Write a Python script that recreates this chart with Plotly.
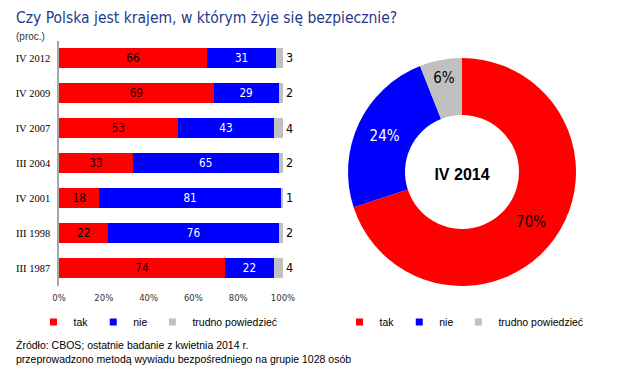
import plotly.graph_objects as go

# page body has an 8px margin; the figure is sized to fill the rest of the 620x372 window
OFF = 8
W, H = 620 - OFF, 372 - OFF

periods = ["IV 2012", "IV 2009", "IV 2007", "III 2004", "IV 2001", "III 1998", "III 1987"]
tak = [66, 69, 53, 33, 18, 22, 74]
nie = [31, 29, 43, 65, 81, 76, 22]
trudno = [3, 2, 4, 2, 1, 2, 4]

series_names = ["tak", "nie", "trudno powiedzieć"]
colors = ["#FF0000", "#0000FF", "#C0C0C0"]
text_colors = ["#000000", "#FFFFFF", "#000000"]

pie_labels = ["tak", "nie", "trudno powiedzieć"]
pie_values = [70, 24, 6]
pie_title = "IV 2014"

x_ticks = [0, 20, 40, 60, 80, 100]

title = "Czy Polska jest krajem, w którym żyje się bezpiecznie?"
subtitle = "(proc.)"
source1 = "Źródło: CBOS; ostatnie badanie z kwietnia 2014 r."
source2 = "przeprowadzono metodą wywiadu bezpośredniego na grupie 1028 osób"


def px_x(p):
    return (p - OFF) / W


def px_y(p):
    return 1 - (p - OFF) / H


fig = go.Figure()

for i, (name, vals) in enumerate(zip(series_names, [tak, nie, trudno])):
    is_last = i == 2
    fig.add_trace(go.Bar(
        y=periods, x=vals, orientation="h", name=name,
        marker=dict(color=colors[i], line=dict(width=0)),
        text=vals, texttemplate="%{x}", textangle=0,
        textposition="outside" if is_last else "inside",
        insidetextanchor="middle",
        textfont=dict(family="DejaVu Sans Condensed, DejaVu Sans", size=12.5, color=text_colors[i]),
        outsidetextfont=dict(family="DejaVu Sans Condensed, DejaVu Sans", size=12.5, color="#000000"),
        cliponaxis=False, showlegend=False, hoverinfo="skip",
    ))

# legend entries (left, for bars)
for i, name in enumerate(series_names):
    fig.add_trace(go.Scatter(
        x=[None], y=[None], mode="markers", name=name,
        marker=dict(symbol="square", size=7, color=colors[i]),
        legend="legend", showlegend=True,
    ))
# legend entries (right, for donut)
for i, name in enumerate(pie_labels):
    fig.add_trace(go.Scatter(
        x=[None], y=[None], mode="markers", name=name,
        marker=dict(symbol="square", size=7, color=colors[i]),
        legend="legend2", showlegend=True,
    ))

fig.add_trace(go.Pie(
    labels=pie_labels, values=pie_values, hole=0.5, sort=False,
    direction="clockwise", rotation=0,
    marker=dict(colors=colors, line=dict(width=0)),
    texttemplate="%{value}%", textposition="inside",
    insidetextorientation="horizontal",
    textfont=dict(family="DejaVu Sans Condensed, DejaVu Sans", size=15, color=text_colors),
    domain=dict(x=[px_x(348), px_x(576)], y=[px_y(286), px_y(58)]),
    title=dict(text="<b>" + pie_title + "</b>", position="middle center",
               font=dict(family="Liberation Sans, Arial", size=16, color="#000000")),
    showlegend=False, hoverinfo="skip",
))

fig.update_layout(
    width=W, height=H,
    margin=dict(l=0, r=0, t=0, b=0, autoexpand=False),
    paper_bgcolor="white", plot_bgcolor="white",
    barmode="stack", bargap=0.43,
    showlegend=True,
    xaxis=dict(
        domain=[px_x(59), px_x(283)], range=[0, 100], automargin=False,
        tickvals=x_ticks, ticktext=[f"{v}%" for v in x_ticks],
        showgrid=False, zeroline=False, showline=False,
        tickfont=dict(family="DejaVu Sans, Verdana", size=8.5, color="#333333"),
        ticks="outside", ticklen=4, tickcolor="rgba(0,0,0,0)",
        fixedrange=True,
    ),
    yaxis=dict(
        domain=[px_y(285.5), px_y(40.5)], automargin=False,
        categoryorder="array", categoryarray=periods, autorange="reversed",
        showgrid=False, zeroline=False,
        showline=True, linecolor="#A6A6A6", linewidth=1.5,
        tickfont=dict(family="Liberation Serif, Times New Roman", size=10.5, color="#000000"),
        ticks="outside", ticklen=5, tickcolor="rgba(0,0,0,0)",
        fixedrange=True,
    ),
    legend=dict(
        orientation="h", x=px_x(158), xanchor="center", y=px_y(322), yanchor="middle",
        font=dict(family="Liberation Sans, Arial", size=10.5, color="#000000"),
        itemwidth=30, bgcolor="rgba(0,0,0,0)", traceorder="normal",
    ),
    legend2=dict(
        orientation="h", x=px_x(464), xanchor="center", y=px_y(322), yanchor="middle",
        font=dict(family="Liberation Sans, Arial", size=10.5, color="#000000"),
        itemwidth=30, bgcolor="rgba(0,0,0,0)", traceorder="normal",
    ),
    annotations=[
        dict(text=title, x=px_x(15), y=1, xref="paper", yref="paper",
             xanchor="left", yanchor="top", showarrow=False, borderpad=0,
             font=dict(family="DejaVu Sans Condensed, DejaVu Sans", size=15.5, color="#1F3A8A")),
        dict(text=subtitle, x=px_x(14), y=px_y(37), xref="paper", yref="paper",
             xanchor="left", yanchor="middle", showarrow=False,
             font=dict(family="Liberation Sans, Arial", size=10, color="#333333")),
        dict(text=source1, x=px_x(14), y=px_y(345), xref="paper", yref="paper",
             xanchor="left", yanchor="middle", showarrow=False,
             font=dict(family="Liberation Sans, Arial", size=10.5, color="#000000")),
        dict(text=source2, x=px_x(14), y=px_y(359), xref="paper", yref="paper",
             xanchor="left", yanchor="middle", showarrow=False,
             font=dict(family="Liberation Sans, Arial", size=10.5, color="#000000")),
    ],
)

fig.write_html("out.html", config={"displayModeBar": False})
